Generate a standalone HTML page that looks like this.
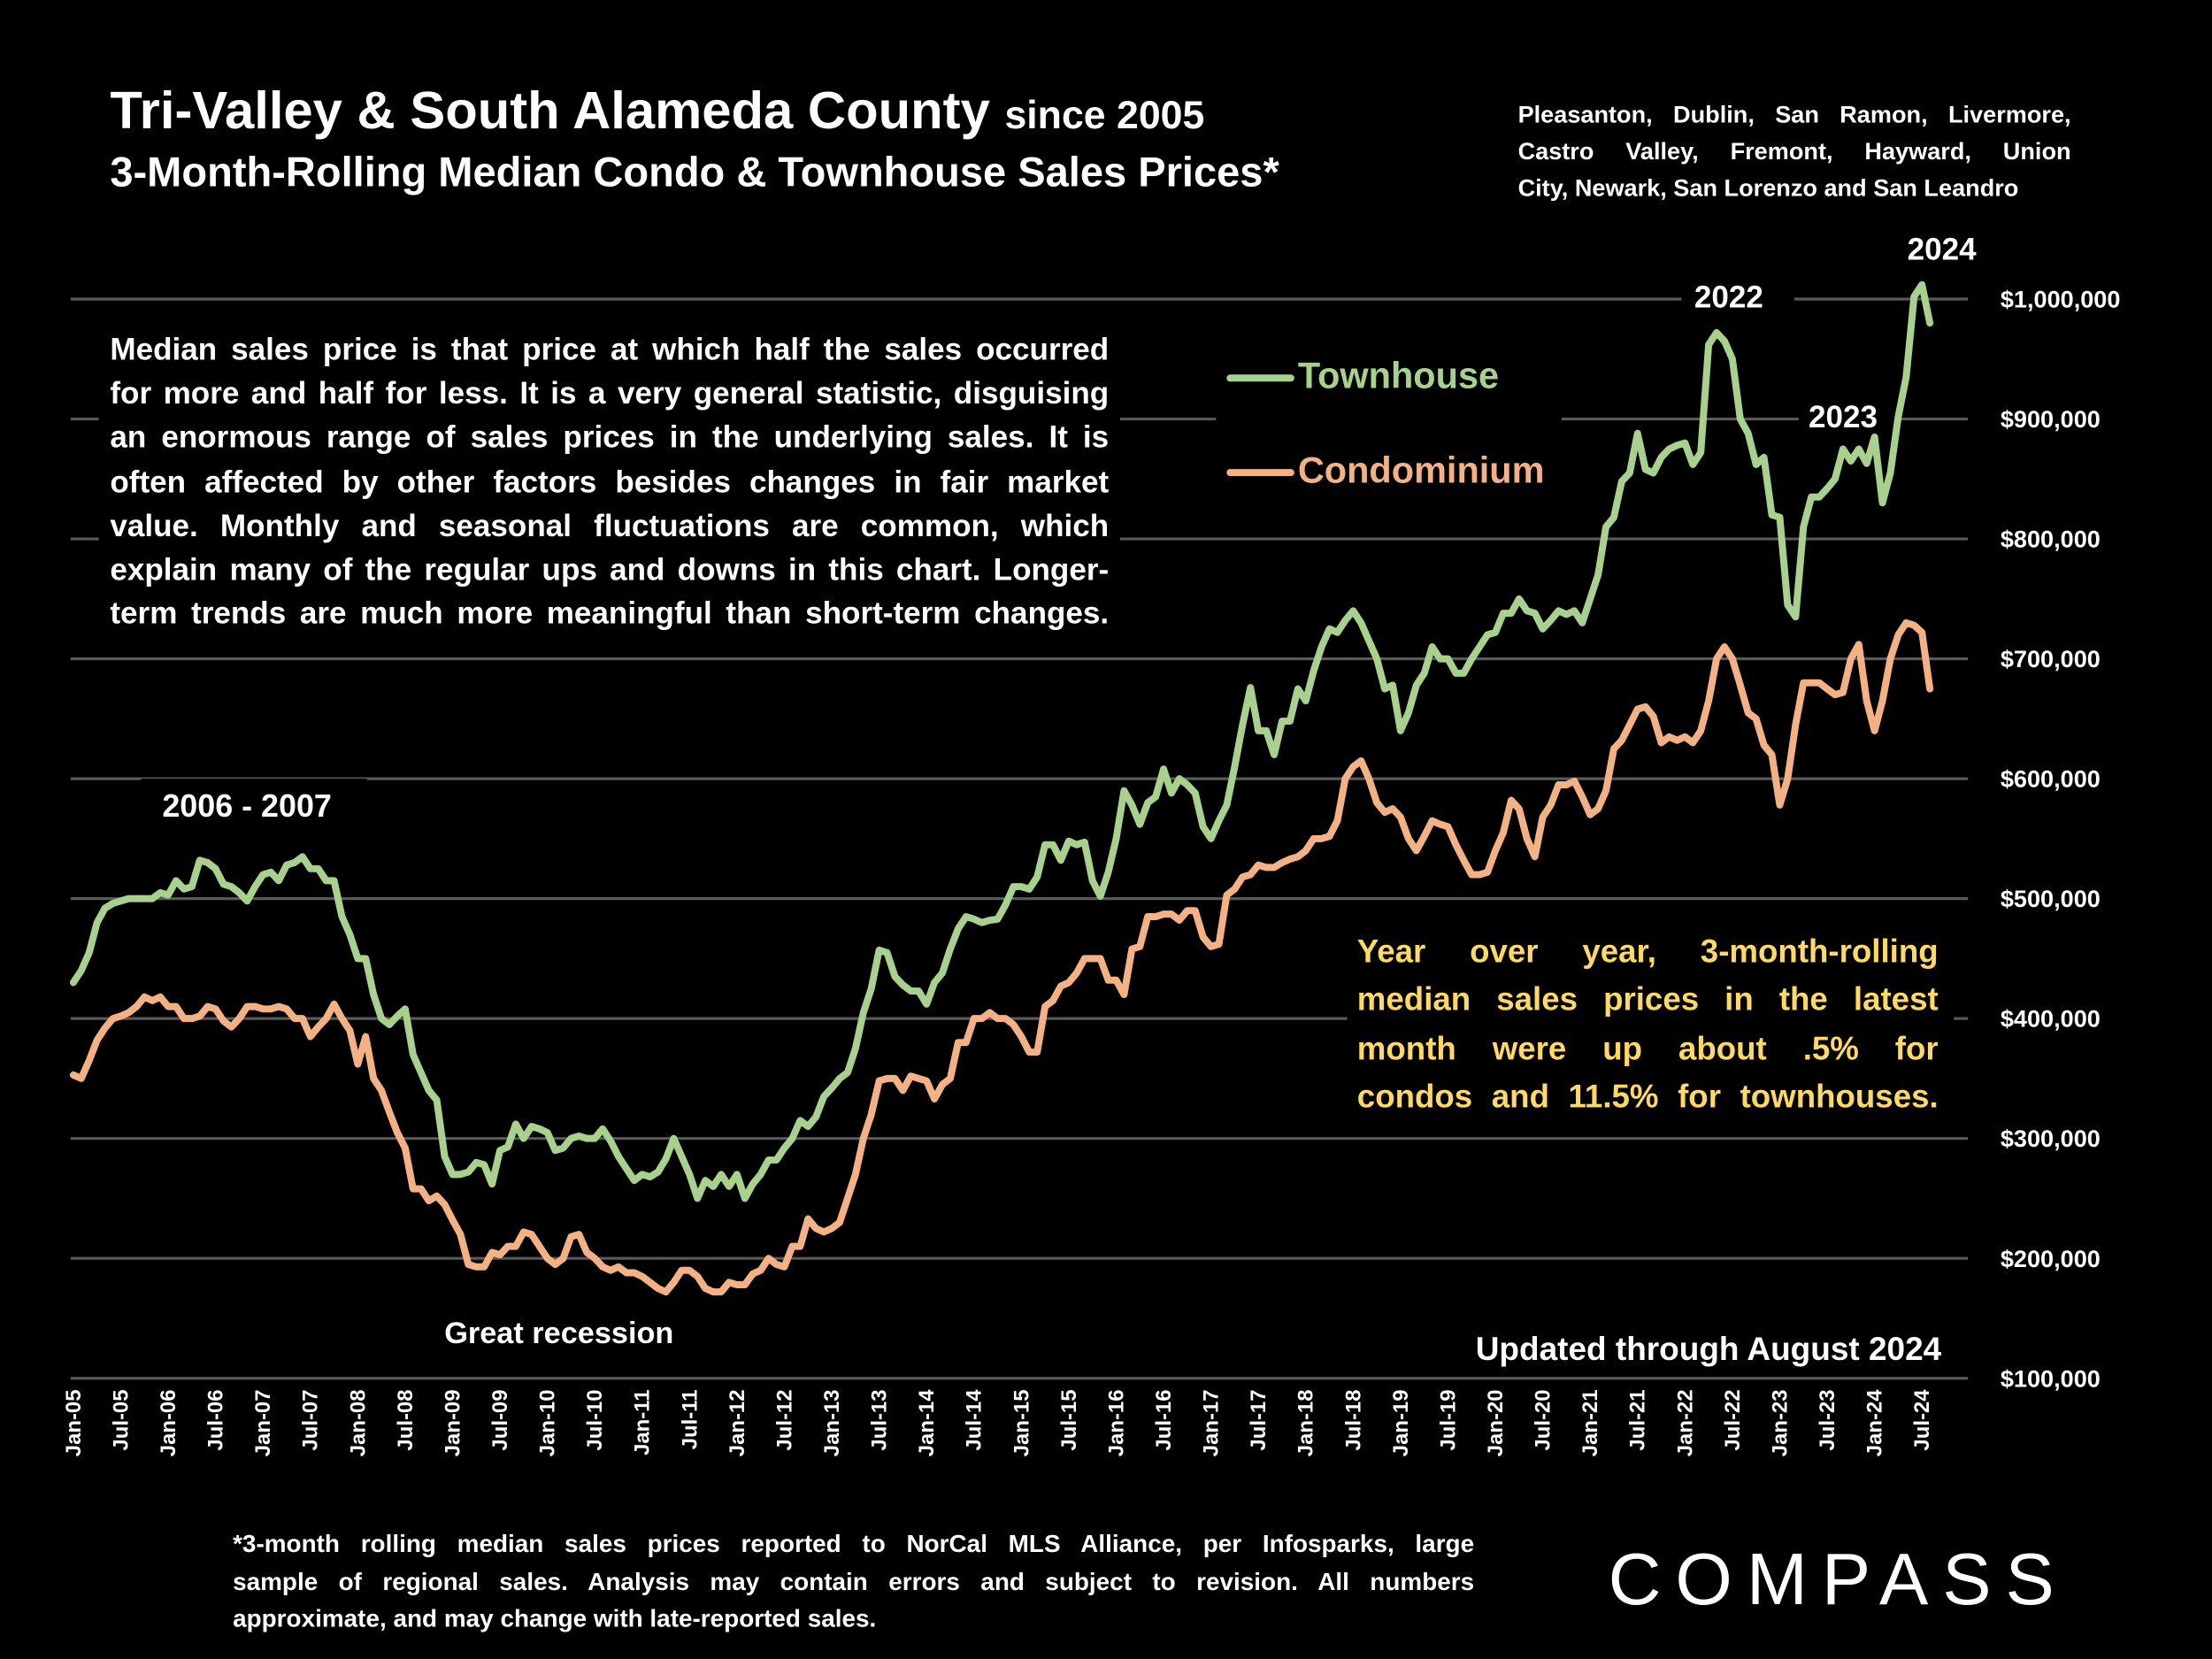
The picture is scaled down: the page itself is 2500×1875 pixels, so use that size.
<!DOCTYPE html>
<html><head><meta charset="utf-8">
<style>
html,body{margin:0;padding:0;background:#000;width:2500px;height:1875px;overflow:hidden}
#stage{position:absolute;left:0;top:0;width:1568px;height:1176px;transform:scale(1.59439);transform-origin:0 0;font-family:"Liberation Sans",sans-serif;font-weight:bold;color:#fff}
.abs{position:absolute;white-space:nowrap}
.j div{text-align:justify;text-align-last:justify;white-space:nowrap}
</style></head>
<body>
<div id="stage">
<svg id="chart" width="1568" height="1176" style="position:absolute;left:0;top:0"></svg>

<div class="abs" style="left:78px;top:57px;font-size:37.5px">Tri-Valley &amp; South Alameda County <span style="font-size:28px">since 2005</span></div>
<div class="abs" style="left:78px;top:106px;font-size:29.5px">3-Month-Rolling Median Condo &amp; Townhouse Sales Prices*</div>

<div class="abs j" style="left:1076px;top:69px;width:392px;font-size:17px;line-height:26px">
<div>Pleasanton, Dublin, San Ramon, Livermore,</div>
<div>Castro Valley, Fremont, Hayward, Union</div>
<div style="text-align-last:left">City, Newark, San Lorenzo and San Leandro</div>
</div>

<div class="abs j" style="left:78px;top:232px;width:708px;font-size:22px;line-height:31.2px">
<div>Median sales price is that price at which half the sales occurred</div>
<div>for more and half for less. It is a very general statistic, disguising</div>
<div>an enormous range of sales prices in the underlying sales. It is</div>
<div>often affected by other factors besides changes in fair market</div>
<div>value. Monthly and seasonal fluctuations are common, which</div>
<div>explain many of the regular ups and downs in this chart. Longer-</div>
<div>term trends are much more meaningful than short-term changes.</div>
</div>

<div class="abs" style="left:920px;top:251px;font-size:26px;color:#a9d18e">Townhouse</div>
<div class="abs" style="left:920px;top:318px;font-size:26px;color:#f4b183">Condominium</div>

<div class="abs j" style="left:962px;top:657px;width:412px;font-size:23px;line-height:34.3px;color:#ffd966">
<div>Year over year, 3-month-rolling</div>
<div>median sales prices in the latest</div>
<div>month were up about .5% for</div>
<div>condos and 11.5% for townhouses.</div>
</div>

<div class="abs" style="left:115px;top:559px;font-size:22.5px">2006 - 2007</div>
<div class="abs" style="left:315px;top:933px;font-size:21.5px">Great recession</div>
<div class="abs" style="left:1201px;top:198px;font-size:22px">2022</div>
<div class="abs" style="left:1282px;top:283px;font-size:22px">2023</div>
<div class="abs" style="left:1352px;top:164px;font-size:22px">2024</div>
<div class="abs" style="left:1046px;top:943px;font-size:23.2px">Updated through August 2024</div>

<div class="abs j" style="left:165px;top:1081px;width:880px;font-size:17.5px;line-height:26.5px">
<div>*3-month rolling median sales prices reported to NorCal MLS Alliance, per Infosparks, large</div>
<div>sample of regional sales. Analysis may contain errors and subject to revision. All numbers</div>
<div style="text-align-last:left">approximate, and may change with late-reported sales.</div>
</div>

<div class="abs" style="left:1140px;top:1090px;font-size:52px;font-weight:normal;letter-spacing:10px">COMPASS</div>
</div>

<script>
const townhouse = [
430,440,455,480,492,496,498,500,500,500,500,505,
503,515,508,510,532,530,525,512,510,505,498,510,
520,522,515,528,530,535,525,525,515,515,485,470,
450,450,420,400,395,402,408,370,355,340,332,285,
270,270,272,280,278,262,290,293,312,300,310,308,
305,290,292,300,302,300,300,308,298,285,275,265,
270,268,272,283,300,285,270,250,265,260,270,260,
270,250,262,270,282,282,292,300,315,310,318,335,
342,350,355,375,405,425,457,455,435,428,423,423,
412,430,438,458,475,485,483,480,482,483,495,510,
510,508,518,545,545,532,548,545,547,515,502,522,
550,590,578,562,580,585,608,588,600,595,588,560,
550,565,578,610,645,676,640,640,620,648,648,675,
665,690,710,725,722,732,740,730,715,700,675,678,
640,655,678,688,710,700,700,688,688,700,710,720,
722,738,738,750,740,738,725,732,740,737,740,730,
750,770,810,818,848,855,888,858,855,868,875,878,
880,862,872,962,972,965,950,900,888,862,868,820,
818,745,735,810,835,835,842,850,875,865,875,863,
885,830,855,902,935,1002,1012,980];
const condo = [
353,350,365,382,392,400,402,405,410,418,415,418,
410,410,400,400,402,410,408,398,393,400,410,410,
408,408,410,408,400,400,385,393,400,412,400,390,
362,385,350,340,322,305,292,258,258,248,252,245,
232,220,195,193,193,205,203,210,210,222,220,210,
200,195,200,218,220,205,200,193,190,193,188,188,
185,180,175,172,180,190,190,185,175,172,172,180,
178,178,187,190,200,195,193,210,210,233,225,222,
225,230,250,270,300,320,348,350,350,340,352,350,
348,333,345,350,380,380,400,400,405,400,400,395,
385,372,372,410,415,427,430,438,450,450,450,432,
432,420,458,460,485,485,487,487,482,490,490,468,
460,462,503,508,518,520,528,526,526,530,533,535,
540,550,550,552,565,600,610,615,600,580,572,575,
568,550,540,552,565,562,560,545,532,520,520,522,
540,555,582,575,550,535,568,578,595,595,598,585,
570,575,590,625,632,645,658,660,652,630,635,632,
635,630,640,665,700,710,700,678,655,650,628,620,
578,600,645,680,680,680,675,670,672,700,712,665,
640,665,700,720,730,728,722,675];
const yTicks = [100,200,300,400,500,600,700,800,900,1000];
const months = ["Jan","Jul"];

const svg = document.getElementById('chart');
const NS = 'http://www.w3.org/2000/svg';
const x0 = 52, x1 = 1368, yBase = 977, pxPer100 = 85;
const xOf = i => x0 + i * (x1 - x0) / (townhouse.length - 1);
const yOf = v => yBase - (v - 100) * pxPer100 / 100;
function mk(tag, attrs){ const e = document.createElementNS(NS, tag); for (const k in attrs) e.setAttribute(k, attrs[k]); svg.appendChild(e); return e; }

yTicks.forEach(v => {
  const l = mk('line', {x1:50, x2:1395, y1:yOf(v), y2:yOf(v), stroke:'#595959', 'stroke-width': 2});
  
  
  const t = mk('text', {x:1418, y:yOf(v)+6, fill:'#fff', 'font-size':17, 'font-weight':'bold', 'font-family':'Liberation Sans, sans-serif'});
  t.textContent = '$' + (v*1000).toLocaleString('en-US');
  
  
});

[[70,228,724,232],[862,240,245,120],[955,652,430,148],[100,552,160,40],[300,930,200,36],[1192,192,80,36],[1275,278,70,34],[1345,160,70,34],[1040,940,340,34]].forEach(r => {
  const b = mk('rect', {x:r[0], y:r[1], width:r[2], height:r[3], fill:'#000'});
  
  
});

for (let i = 0; i < townhouse.length; i += 6) {
  const yr = String(5 + Math.floor(i/12)).padStart(2,'0');
  const lab = months[(i/6)%2] + '-' + yr;
  const x = xOf(i) + 5;
  const t = mk('text', {x:x, y:985, fill:'#fff', 'font-size':15, 'font-weight':'bold', 'font-family':'Liberation Sans, sans-serif', 'text-anchor':'end', transform:`rotate(-90 ${x} 985)`});
  t.textContent = lab;
  
  
}

function series(data, color, name){
  const d = data.map((v,i) => (i?'L':'M') + xOf(i).toFixed(1) + ' ' + yOf(v).toFixed(1)).join(' ');
  const p = mk('path', {d:d, fill:'none', stroke:color, 'stroke-width':5, 'stroke-linejoin':'round', 'stroke-linecap':'round'});
  
  
}
series(townhouse, '#a9d18e', 'townhouse-line');
series(condo, '#f4b183', 'condo-line');

const lg1 = mk('line', {x1:872, x2:915, y1:268, y2:268, stroke:'#a9d18e', 'stroke-width':5, 'stroke-linecap':'round'});


const lg2 = mk('line', {x1:872, x2:915, y1:335, y2:335, stroke:'#f4b183', 'stroke-width':5, 'stroke-linecap':'round'});


</script>
</body></html>
